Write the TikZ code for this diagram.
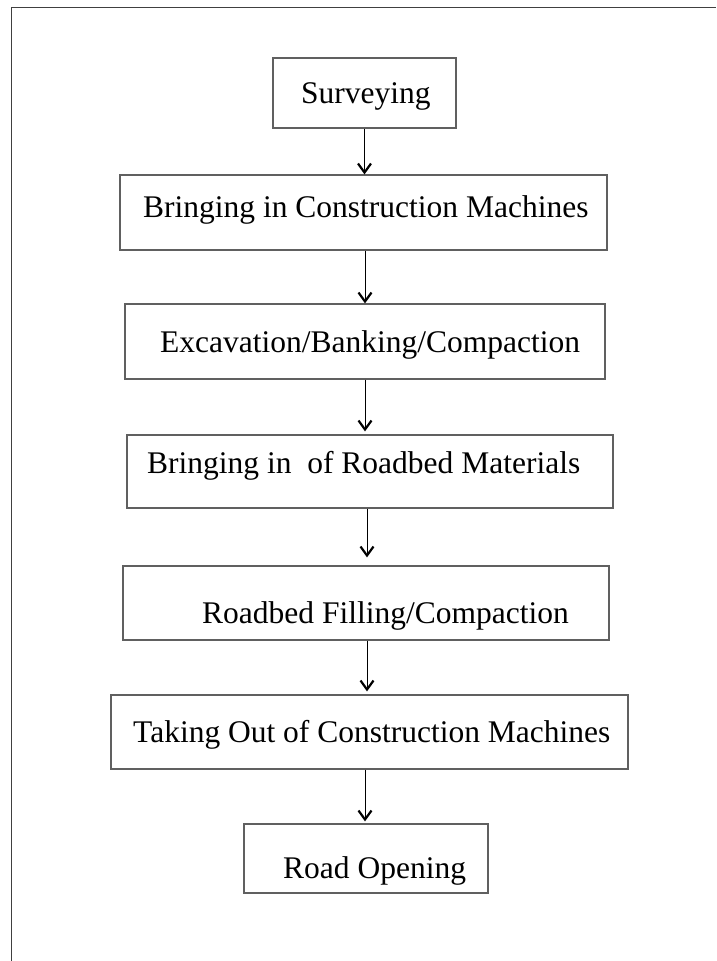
\documentclass[tikz,border=0pt]{standalone}
\usepackage{fontspec}
\setmainfont{Liberation Serif}
\usetikzlibrary{arrows.meta}
\definecolor{boxgray}{HTML}{606060}
\definecolor{framegray}{HTML}{404040}
\begin{document}
\begin{tikzpicture}[x=1pt,y=-1pt,
  box/.style={draw=boxgray, line width=1.2pt, rectangle, inner sep=0pt},
  txt/.style={anchor=base west, inner sep=0pt, font=\fontsize{31.5}{36}\selectfont},
  arr/.style={draw=black, line width=1pt, -{Straight Barb[length=9pt,width=13pt,line width=2.2pt]}},
  framed/.style={draw=framegray, line width=1.5pt}]
\useasboundingbox (0,0) rectangle (716,961);
% outer frame (top and left only)
\coordinate (fr1) at (11.5,961);
\coordinate (fr2) at (11.5,7.5);
\coordinate (fr3) at (716,7.5);
\draw[framed] (fr1) -- (fr2) -- (fr3);
% boxes
\node[box, minimum width=183pt, minimum height=70pt] (b1) at (364.5,93) {};
\node[box, minimum width=487pt, minimum height=75pt] (b2) at (363.5,212.5) {};
\node[box, minimum width=480pt, minimum height=75pt] (b3) at (365,341.5) {};
\node[box, minimum width=486pt, minimum height=73pt] (b4) at (370,471.5) {};
\node[box, minimum width=486pt, minimum height=74pt] (b5) at (366,603) {};
\node[box, minimum width=517pt, minimum height=74pt] (b6) at (369.5,732) {};
\node[box, minimum width=244pt, minimum height=69pt] (b7) at (366,858.5) {};
% texts
\node[txt] (t1) at (301,103) {Surveying};
\node[txt] (t2) at (143,217) {Bringing in Construction Machines};
\node[txt] (t3) at (160,352) {Excavation/Banking/Compaction};
\node[txt] (t4) at (147,473) {Bringing in\ \ of Roadbed Materials};
\node[txt] (t5) at (202,623) {Roadbed Filling/Compaction};
\node[txt] (t6) at (133,742) {Taking Out of Construction Machines};
\node[txt] (t7) at (283,878) {Road Opening};
% arrows
\draw[arr] (b1.south) -- (b1.south |- b2.north);
\draw[arr] ([xshift=1.5pt]b2.south) -- ([xshift=1.5pt]b2.south |- b3.north);
\draw[arr, shorten >=3pt] (b3.south) -- (b3.south |- b4.north);
\draw[arr, shorten >=8pt] ([xshift=-3pt]b4.south) -- ([xshift=-3pt]b4.south |- b5.north);
\draw[arr, shorten >=3pt] ([xshift=1pt]b5.south) -- ([xshift=1pt]b5.south |- b6.north);
\draw[arr, shorten >=2pt] ([xshift=-4.5pt]b6.south) -- ([xshift=-4.5pt]b6.south |- b7.north);
\end{tikzpicture}
\end{document}
